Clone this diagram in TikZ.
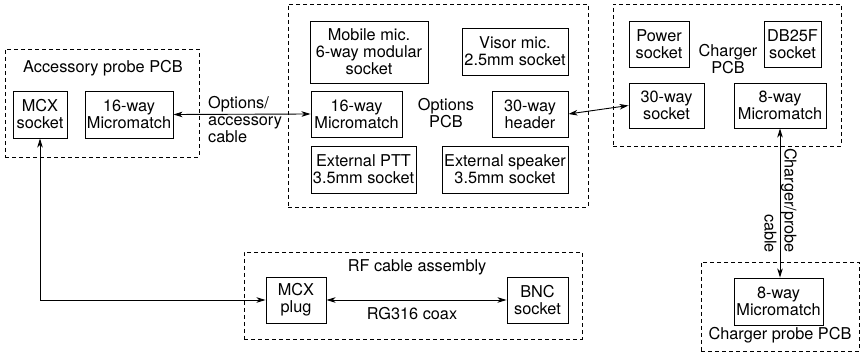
\documentclass[tikz,border=0pt]{standalone}
\usepackage{fontspec}
\setmainfont{TeX Gyre Heros}
\usetikzlibrary{arrows.meta}
\begin{document}
\begin{tikzpicture}[x=1pt,y=-1pt,
  every node/.style={font=\fontsize{16.3}{17}\selectfont, inner sep=0pt, align=center},
  blk/.style={draw, line width=0.9pt, minimum width=#1},
  blk/.default=60pt,
  pcb/.style={draw, dashed, dash pattern=on 4pt off 3pt, line width=0.8pt},
  link/.style={line width=0.9pt, {Stealth[length=9pt,width=5.5pt,inset=2.5pt]}-{Stealth[length=9pt,width=5.5pt,inset=2.5pt]}}]
\useasboundingbox (0,0) rectangle (865,355);

% Accessory probe PCB
\node[pcb, minimum width=194pt, minimum height=108pt] (accbox) at (102,103) {};
\node (acctitle) at (103,68) {Accessory probe PCB};
\node[blk=54pt, minimum height=47pt] (mcxs) at (40,114.5) {MCX\\socket};
\node[blk=88pt, minimum height=47pt] (acc16) at (129,114.5) {16-way\\Micromatch};

% Options PCB
\node[pcb, minimum width=300pt, minimum height=203pt] (optbox) at (438,105.5) {};
\node[blk=118pt, minimum height=62pt] (mob) at (369,52) {Mobile mic.\\6-way modular\\socket};
\node[blk=106pt, minimum height=47pt] (visor) at (515,51.5) {Visor mic.\\2.5mm socket};
\node[blk=91pt, minimum height=46pt] (opt16) at (356.5,114) {16-way\\Micromatch};
\node (optlabel) at (446,113) {Options\\PCB};
\node[blk=76pt, minimum height=46pt] (hdr30) at (530,114) {30-way\\header};
\node[blk=105pt, minimum height=47pt] (ptt) at (363.5,169.5) {External PTT\\3.5mm socket};
\node[blk=126pt, minimum height=47pt] (spk) at (505,169.5) {External speaker\\3.5mm socket};

% Charger PCB
\node[pcb, minimum width=228pt, minimum height=142pt] (chgbox) at (727,75) {};
\node[blk=60pt, minimum height=46pt] (power) at (659,44) {Power\\socket};
\node[blk=57pt, minimum height=46pt] (db25) at (792.5,44) {DB25F\\socket};
\node (chglabel) at (728,59) {Charger\\PCB};
\node[blk=75pt, minimum height=45pt] (sock30) at (666.5,105.5) {30-way\\socket};
\node[blk=92pt, minimum height=45pt] (mm8) at (780,105.5) {8-way\\Micromatch};

% Charger probe PCB
\node[pcb, minimum width=158pt, minimum height=89pt] (probebox) at (780,306.5) {};
\node[blk=89pt, minimum height=47pt] (mm8b) at (778.5,301.5) {8-way\\Micromatch};
\node (probelabel) at (780,335) {Charger probe PCB};

% RF cable assembly
\node[pcb, minimum width=338pt, minimum height=87pt] (rfbox) at (413,295.5) {};
\node (rftitle) at (417,267) {RF cable assembly};
\node[blk=60pt, minimum height=46pt] (mcxp) at (296,300) {MCX\\plug};
\node[blk=61pt, minimum height=46pt] (bnc) at (537.5,300) {BNC\\socket};
\node (coax) at (412,314) {RG316 coax};

% Connectors
\draw[link] (acc16.east) -- (opt16.west);
\node[anchor=west, align=left] (optcable) at (208,120) {Options/\\accessory\\cable};
\draw[link] (hdr30.east) -- (sock30.west);
\draw[link] (mm8.south) -- (mm8.south |- mm8b.north);
\node[rotate=-90, align=right] (chgcable) at (780.5,200.5) {Charger/probe\\[3pt]cable};
\draw[link] (mcxs.south) |- (mcxp.west);
\draw[link] (mcxp.east) -- (bnc.west);
\end{tikzpicture}
\end{document}
